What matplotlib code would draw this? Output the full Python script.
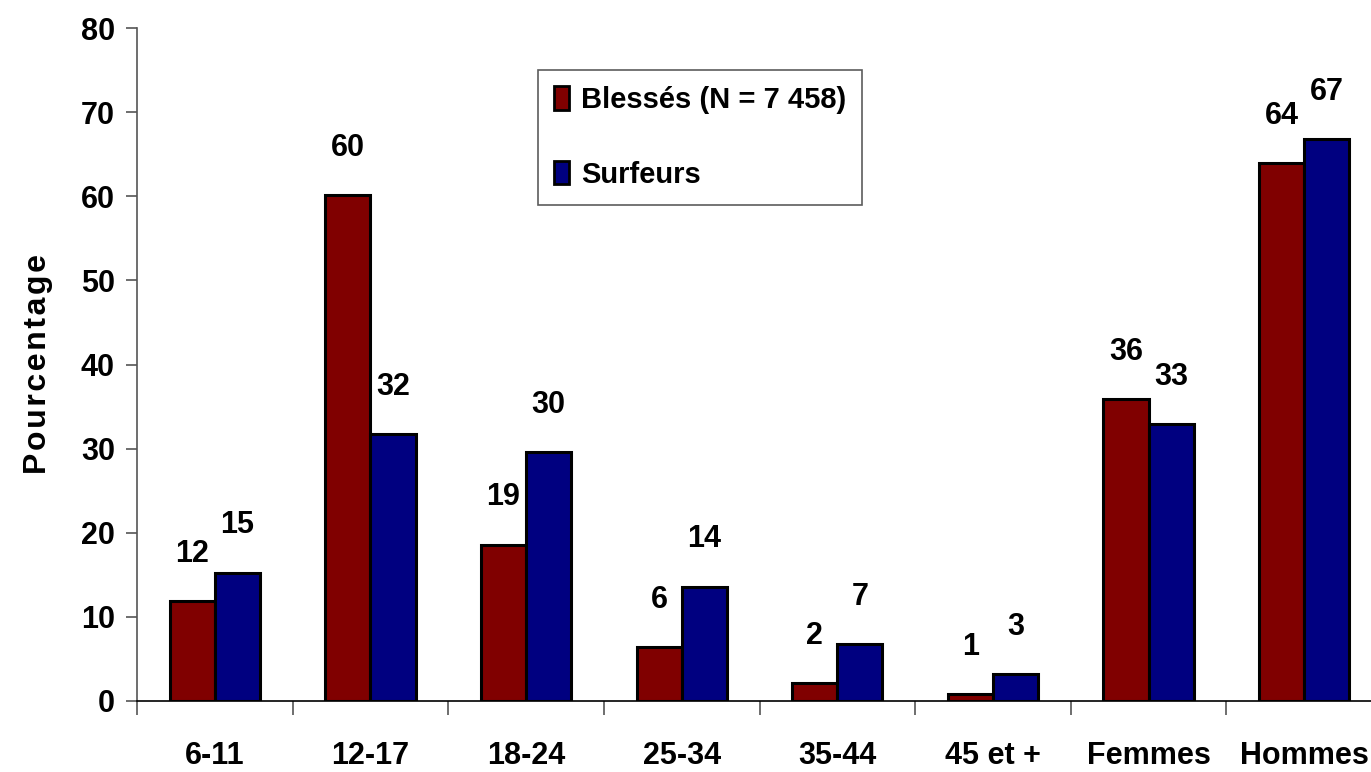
import numpy as np
import matplotlib
matplotlib.use("Agg")
import matplotlib.pyplot as plt
from matplotlib.ticker import FixedLocator

categories = ["6-11", "12-17", "18-24", "25-34", "35-44", "45 et +", "Femmes", "Hommes"]
blesses = [11.9, 60.1, 18.6, 6.4, 2.1, 0.8, 35.9, 63.9]
surfeurs = [15.25, 31.75, 29.6, 13.6, 6.8, 3.2, 32.9, 66.8]
blesses_labels = ["12", "60", "19", "6", "2", "1", "36", "64"]
surfeurs_labels = ["15", "32", "30", "14", "7", "3", "33", "67"]
series_names = ["Blessés (N = 7 458)", "Surfeurs"]
yticks = [0, 10, 20, 30, 40, 50, 60, 70, 80]

fonts = ["Liberation Sans Narrow", "Liberation Sans", "DejaVu Sans"]
plt.rcParams["font.family"] = fonts
plt.rcParams["font.weight"] = "bold"

fig = plt.figure(figsize=(13.71, 7.72), dpi=100)
ax = fig.add_axes([137 / 1371, 71 / 772, 1245 / 1371, 673 / 772])

x = np.arange(len(categories))
w = 0.29
red = "#800000"
blue = "#000080"
b1 = ax.bar(x - w / 2, blesses, w, color=red, edgecolor="black", linewidth=2.2,
            label=series_names[0])
b2 = ax.bar(x + w / 2, surfeurs, w, color=blue, edgecolor="black", linewidth=2.2,
            label=series_names[1])

for rects, labels in ((b1, blesses_labels), (b2, surfeurs_labels)):
    for r, lab in zip(rects, labels):
        ax.annotate(lab, (r.get_x() + r.get_width() / 2, r.get_height()),
                    xytext=(0, 34), textcoords="offset points",
                    ha="center", va="center", fontsize=22, fontweight="bold")

ax.set_xlim(-0.5, len(categories) - 0.5)
ax.set_ylim(0, 80)
ax.set_yticks(yticks)
ax.set_xticks(x)
ax.set_xticklabels(categories)
ax.xaxis.set_minor_locator(FixedLocator(np.arange(-0.5, len(categories), 1.0)))
ax.tick_params(axis="x", which="major", length=0, pad=29, labelsize=22)
ax.tick_params(axis="x", which="minor", length=10, width=1.2, color="#555555", direction="out")
ax.tick_params(axis="y", length=8, width=1.2, color="#555555", labelsize=22, pad=8)
for lab in ax.get_xticklabels() + ax.get_yticklabels():
    lab.set_fontweight("bold")

ax.spines["top"].set_visible(False)
ax.spines["right"].set_visible(False)
ax.spines["left"].set_color("#555555")
ax.spines["left"].set_linewidth(1.2)
ax.spines["bottom"].set_color("black")
ax.spines["bottom"].set_linewidth(1.2)

hair = "\u200a"
ax.set_ylabel(hair.join("Pourcentage"), fontsize=23, fontweight="bold",
              family=["Liberation Sans", "DejaVu Sans"], labelpad=20)

leg = ax.legend(loc="upper left", bbox_to_anchor=((538 - 137) / 1245, (701 - 70) / 673),
                borderaxespad=0, frameon=True, fancybox=False, edgecolor="#333333",
                handlelength=0.52, handleheight=0.86, handletextpad=0.4,
                labelspacing=1.6, borderpad=0.55, prop={"weight": "bold", "size": 21})
leg.get_frame().set_linewidth(1.2)
for h in leg.legend_handles:
    h.set_linewidth(2)

fig.savefig("out.png", dpi=100)
